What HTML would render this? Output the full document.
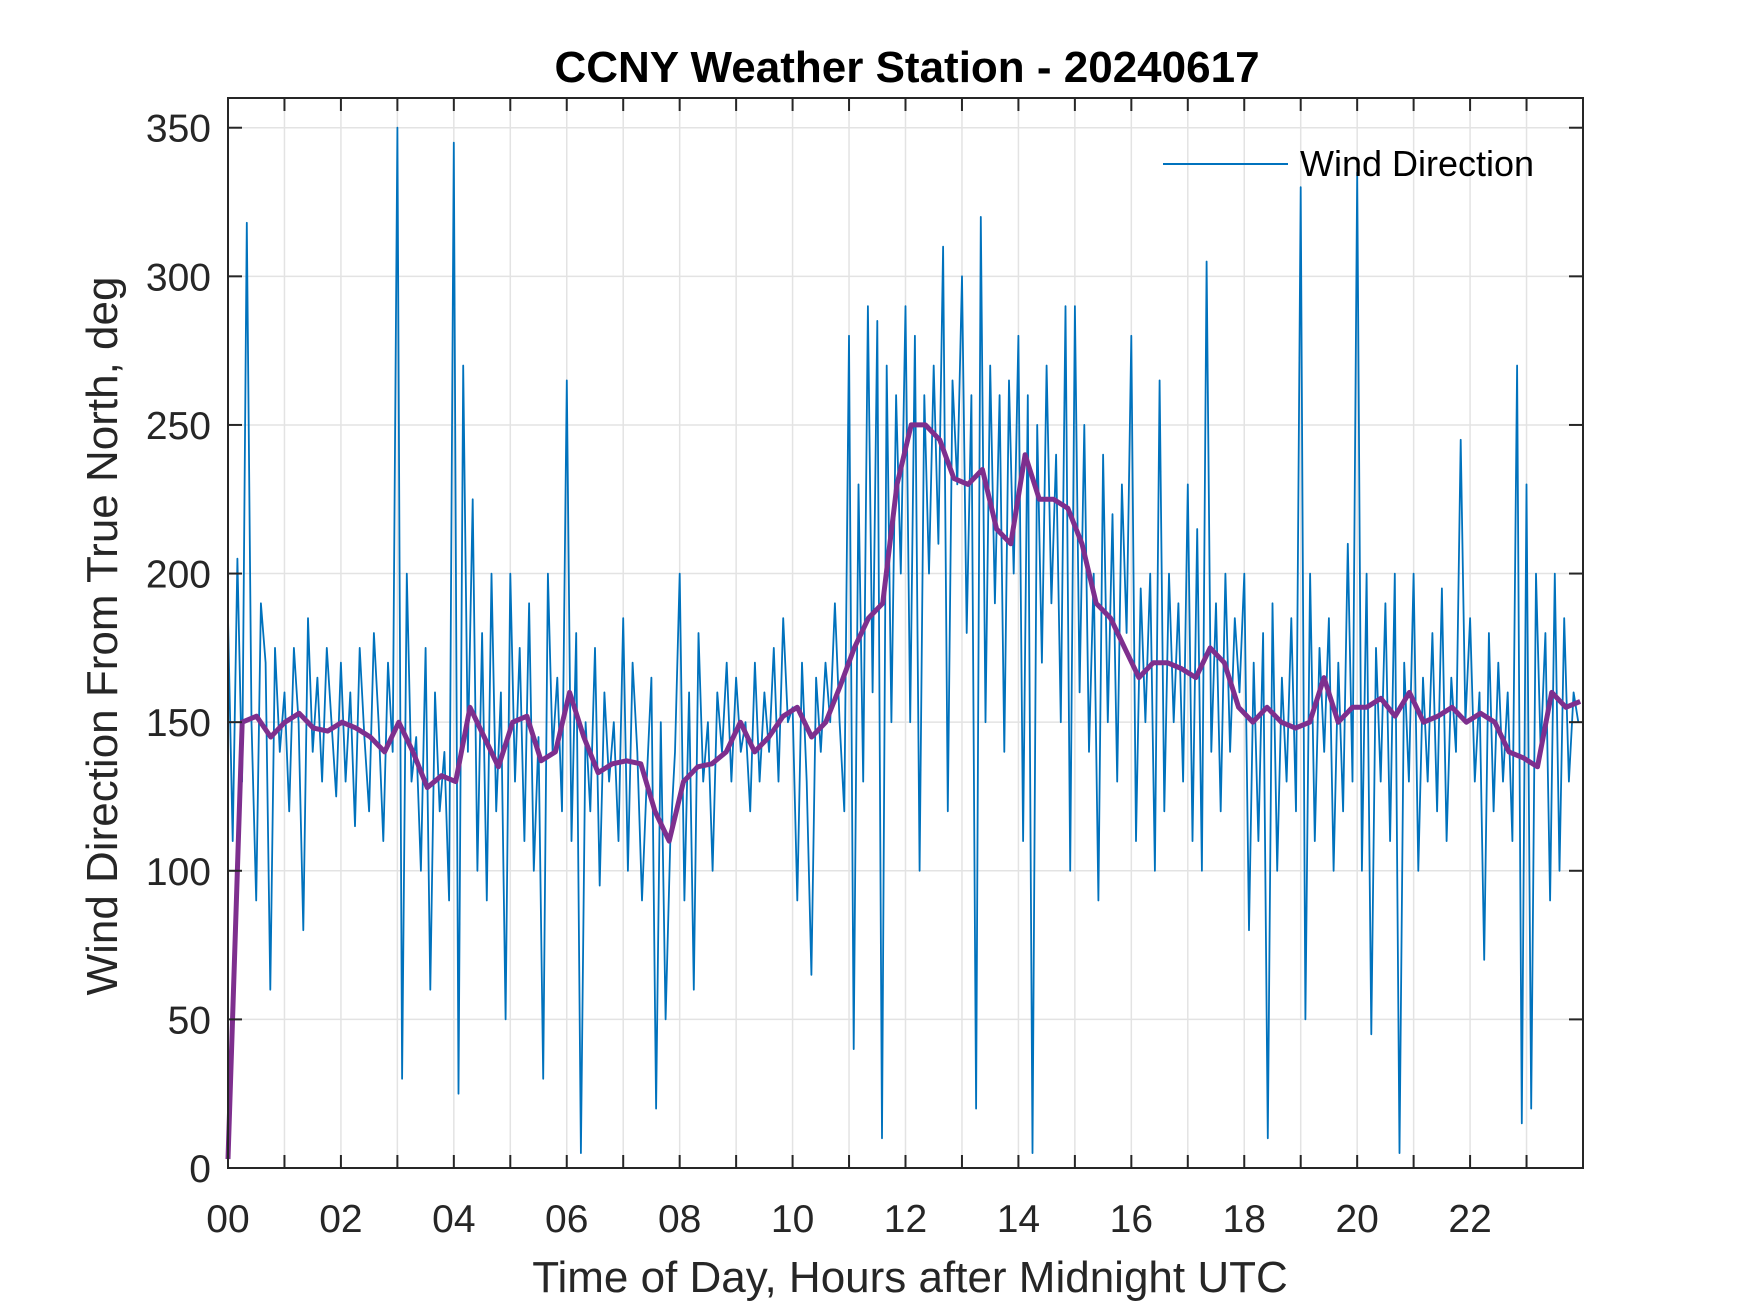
<!DOCTYPE html>
<html><head><meta charset="utf-8"><style>
html,body{margin:0;padding:0;background:#fff}
svg{display:block;font-family:"Liberation Sans",Arial,sans-serif}
</style></head><body>
<svg id="chart" width="1750" height="1313" viewBox="0 0 1750 1313">
<rect width="1750" height="1313" fill="#fff"/>
<g id="grid"></g>
<g id="series"></g>
<g id="axes"></g>
<text x="907" y="82" text-anchor="middle" font-size="44" font-weight="bold" fill="#000">CCNY Weather Station - 20240617</text>
<text x="910" y="1292" text-anchor="middle" font-size="44" fill="#262626">Time of Day, Hours after Midnight UTC</text>
<text transform="translate(117,636) rotate(-90)" text-anchor="middle" font-size="44" fill="#262626">Wind Direction From True North, deg</text>
<g>
<line x1="1163" y1="164" x2="1288" y2="164" stroke="#0072BD" stroke-width="2"/>
<text x="1300" y="176" font-size="36" fill="#000">Wind Direction</text>
</g>
</svg>
<script>
const rawValues = [
185,110,205,130,318,150,90,190,170,60,175,140,
160,120,175,150,80,185,140,165,130,175,150,125,
170,130,160,115,175,145,120,180,150,110,170,140,
350,30,200,130,145,100,175,60,160,120,140,90,
345,25,270,140,225,100,180,90,200,120,160,50,
200,130,175,110,190,100,145,30,200,140,165,120,
265,110,180,5,150,120,175,95,160,130,150,110,
185,100,170,140,90,130,165,20,150,50,110,140,
200,90,160,60,180,130,150,100,160,140,170,130,
165,140,150,120,170,130,160,140,175,130,185,150,
155,90,170,130,65,165,140,170,150,190,150,120,
280,40,230,130,290,160,285,10,270,150,260,200,
290,150,280,100,260,200,270,210,310,120,265,230,
300,180,260,20,320,150,270,190,260,140,265,200,
280,110,260,5,250,170,270,190,240,150,290,100,
290,160,250,140,200,90,240,150,220,130,230,180,
280,110,195,150,200,100,265,120,200,150,190,130,
230,110,215,100,305,140,190,120,200,140,185,160,
200,80,170,110,180,10,190,100,165,130,185,120,
330,50,200,110,175,140,185,100,170,120,210,130,
335,100,200,45,175,130,190,110,200,5,170,130,
200,100,165,130,180,120,195,110,165,140,245,150,
185,130,160,70,180,120,170,130,160,110,270,15,
230,20,200,140,180,90,200,100,185,130,160,150];
const avgValues = [
3,150,152,145, 150,153,148,147, 150,148,145,140, 150,140,128,132,
130,155,145,135, 150,152,137,140, 160,145,133,136, 137,136,120,110,
130,135,136,140, 150,140,145,152, 155,145,150,162, 175,185,190,230,
250,250,245,232, 230,235,215,210, 240,225,225,222, 210,190,185,175,
165,170,170,168, 165,175,170,155, 150,155,150,148, 150,165,150,155,
155,158,152,160, 150,152,155,150, 153,150,140,138, 135,160,155,157];
const xTickLabels = ["00","02","04","06","08","10","12","14","16","18","20","22"];
const yTickLabels = [0,50,100,150,200,250,300,350];

const L=228,R=1583,T=98,B=1168,XMAX=24,YMAX=360;
const NS="http://www.w3.org/2000/svg";
function xs(h){return L+(R-L)*h/XMAX;}
function ys(v){return B-(B-T)*v/YMAX;}
function mk(tag,attrs,parent){const e=document.createElementNS(NS,tag);for(const k in attrs)e.setAttribute(k,attrs[k]);parent.appendChild(e);return e;}
const grid=document.getElementById('grid'),series=document.getElementById('series'),axes=document.getElementById('axes');

for(let h=1;h<XMAX;h++){
  const g=mk('line',{x1:xs(h),x2:xs(h),y1:T,y2:B,stroke:'#e3e3e3','stroke-width':1.5},grid);
  
  
}
yTickLabels.forEach(v=>{
  const g=mk('line',{x1:L,x2:R,y1:ys(v),y2:ys(v),stroke:'#e3e3e3','stroke-width':1.5},grid);
  
  
});

let d='';
rawValues.forEach((v,i)=>{d+=(i?'L':'M')+xs(i*XMAX/rawValues.length).toFixed(1)+','+ys(v).toFixed(1);});
const raw=mk('path',{d:d,fill:'none',stroke:'#0072BD','stroke-width':1.8,'stroke-linejoin':'round'},series);



let d2='';
avgValues.forEach((v,i)=>{d2+=(i?'L':'M')+xs(i*23.95/(avgValues.length-1)).toFixed(1)+','+ys(v).toFixed(1);});
const avg=mk('path',{d:d2,fill:'none',stroke:'#7E2F8E','stroke-width':5,'stroke-linejoin':'round'},series);



const box=mk('rect',{x:L,y:T,width:R-L,height:B-T,fill:'none',stroke:'#262626','stroke-width':2},axes);


for(let h=1;h<XMAX;h++){
  const t1=mk('line',{x1:xs(h),x2:xs(h),y1:B,y2:B-13,stroke:'#262626','stroke-width':2},axes);
  
  
  const t2=mk('line',{x1:xs(h),x2:xs(h),y1:T,y2:T+13,stroke:'#262626','stroke-width':2},axes);
  
  
}
xTickLabels.forEach((s,i)=>{
  const t=mk('text',{x:xs(i*2),y:1232,'text-anchor':'middle','font-size':39,fill:'#262626'},axes);
  t.textContent=s;
  
  
});
yTickLabels.forEach(v=>{
  const a=mk('line',{x1:L,x2:L+14,y1:ys(v),y2:ys(v),stroke:'#262626','stroke-width':2},axes);
  
  
  const b=mk('line',{x1:R,x2:R-14,y1:ys(v),y2:ys(v),stroke:'#262626','stroke-width':2},axes);
  
  
  const t=mk('text',{x:211,y:ys(v)+14,'text-anchor':'end','font-size':39,fill:'#262626'},axes);
  t.textContent=String(v);
  
  
});
</script>
</body></html>
